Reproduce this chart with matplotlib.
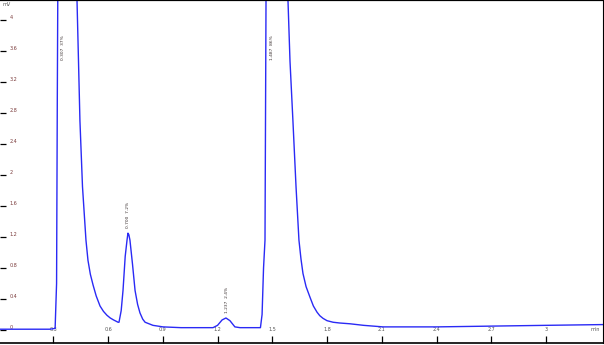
import matplotlib
matplotlib.use("Agg")
import matplotlib.pyplot as plt

# trace (time in min, signal in mV); peak tops are off scale
t = [0.008, 0.10, 0.20, 0.28, 0.310, 0.318, 0.322, 0.326, 0.33, 0.36, 0.40, 0.430,
     0.438, 0.446, 0.460, 0.479, 0.490, 0.503, 0.518, 0.535, 0.556, 0.575, 0.594,
     0.612, 0.630, 0.655, 0.660,
     0.672, 0.682, 0.694, 0.704, 0.709, 0.714, 0.720, 0.734, 0.748, 0.762, 0.775,
     0.790, 0.803, 0.846, 0.901, 1.000, 1.104, 1.175, 1.200, 1.225, 1.246, 1.268,
     1.295, 1.323, 1.380, 1.435, 1.444, 1.452, 1.460, 1.466, 1.50, 1.54, 1.586,
     1.597, 1.613, 1.630, 1.646, 1.657, 1.668, 1.685, 1.707, 1.725, 1.745, 1.760,
     1.778, 1.800, 1.833, 1.870, 1.926, 2.000, 2.107, 2.40, 2.70, 3.00, 3.318]
mv = [0.01, 0.01, 0.01, 0.01, 0.02, 0.6, 3.0, 5.0, 7.0, 9.0, 6.5, 4.25,
      3.48, 2.70, 1.85, 1.16, 0.90, 0.72, 0.58, 0.44, 0.31, 0.24, 0.19,
      0.155, 0.13, 0.10, 0.10,
      0.25, 0.51, 0.95, 1.16, 1.25, 1.23, 1.16, 0.85, 0.51, 0.33, 0.22,
      0.14, 0.10, 0.06, 0.04, 0.03, 0.03, 0.03, 0.06, 0.13, 0.155, 0.12,
      0.04, 0.03, 0.03, 0.03, 0.2, 0.8, 1.16, 4.5, 14.0, 10.0, 4.25,
      3.47, 2.70, 1.85, 1.16, 0.92, 0.73, 0.56, 0.42, 0.31, 0.23, 0.185,
      0.15, 0.12, 0.10, 0.09, 0.08, 0.06, 0.04, 0.04, 0.05, 0.06, 0.07]

peak_t = [0.353, 0.709, 1.252, 1.498]
peak_y = [3.65, 1.48, 0.39, 3.65]
peak_text = ["0.307  37%", "0.700  7.2%", "1.237  2.4%", "1.487  86%"]

xticks = [0.3, 0.6, 0.9, 1.2, 1.5, 1.8, 2.1, 2.4, 2.7, 3.0]
xlabels = ["0.3", "0.6", "0.9", "1.2", "1.5", "1.8", "2.1", "2.4", "2.7", "3"]
yticks = [0, 0.4, 0.8, 1.2, 1.6, 2.0, 2.4, 2.8, 3.2, 3.6, 4.0]
ylabels = ["0", "0.4", "0.8", "1.2", "1.6", "2", "2.4", "2.8", "3.2", "3.6", "4"]

fig = plt.figure(figsize=(6.04, 3.45), dpi=100)
ax = fig.add_axes([0, 2 / 345, 603 / 604, 343 / 345])

ax.plot(t, mv, color="#2a2af5", lw=1.0)

for x, y, s in zip(peak_t, peak_y, peak_text):
    ax.text(x, y, s, rotation=90, ha="center", va="center",
            fontsize=3.2, color="#3a3030")

ax.set_xlim(0.008, 3.312)
ax.set_ylim(-0.168, 4.26)

ax.set_xticks(xticks)
ax.set_xticklabels(xlabels)
ax.set_yticks(yticks)
ax.set_yticklabels(ylabels)
ax.tick_params(axis="x", direction="in", length=5, width=0.9, pad=-11.5,
               labelsize=3.5, labelcolor="#555555")
ax.tick_params(axis="y", direction="in", length=4, width=0.9, pad=-7,
               labelsize=3.5, labelcolor="#7a3a3a")
for lab in ax.get_yticklabels():
    lab.set_horizontalalignment("left")
    lab.set_verticalalignment("bottom")

ax.spines["left"].set_visible(False)
ax.spines["top"].set_linewidth(1.6)
ax.spines["bottom"].set_linewidth(1.2)
ax.spines["right"].set_linewidth(0.8)

ax.text(0.004, 0.995, "mV", transform=ax.transAxes, fontsize=3.5,
        color="#555555", ha="left", va="top")
ax.text(0.995, 0.04, "min", transform=ax.transAxes, fontsize=3.5,
        color="#555555", ha="right", va="center")

fig.savefig("out.png", dpi=100)
